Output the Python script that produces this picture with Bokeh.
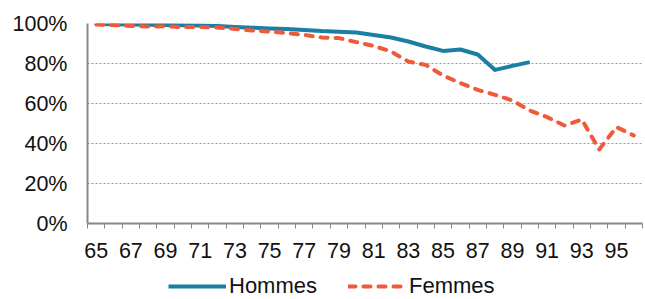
from bokeh.plotting import figure
from bokeh.layouts import column
from bokeh.models import (ColumnDataSource, FixedTicker, NumeralTickFormatter,
                          Legend, LegendItem, Range1d)
from bokeh.embed import file_html
from bokeh.resources import INLINE

ages_h = list(range(65, 91))
hommes = [0.997, 0.996, 0.995, 0.994, 0.993, 0.991, 0.990, 0.987, 0.983, 0.979,
          0.975, 0.972, 0.967, 0.962, 0.959, 0.955, 0.943, 0.930, 0.910, 0.885,
          0.863, 0.870, 0.845, 0.768, 0.788, 0.807]
ages_f = list(range(65, 97))
femmes = [0.995, 0.992, 0.988, 0.985, 0.986, 0.982, 0.983, 0.980, 0.973, 0.965,
          0.960, 0.952, 0.943, 0.930, 0.927, 0.907, 0.888, 0.860, 0.810, 0.793,
          0.740, 0.702, 0.668, 0.643, 0.615, 0.565, 0.532, 0.490, 0.520, 0.370,
          0.482, 0.440]
x_ticks = list(range(65, 97, 2))
y_ticks = [0, 0.2, 0.4, 0.6, 0.8, 1.0]
series_names = ["Hommes", "Femmes"]

FONT = "Liberation Sans"
FSIZE = "21.5px"
LSIZE = "22px"
BLUE = "#1A7FA2"
RED = "#EE5A3A"
DASH = "7 8"

p = figure(width=645, height=263, output_backend="svg", toolbar_location=None,
           x_range=Range1d(64.5, 96.5), y_range=Range1d(0, 1.0),
           min_border_left=87, min_border_right=3, min_border_top=23,
           min_border_bottom=40)
p.outline_line_color = None
p.background_fill_color = "white"

src_h = ColumnDataSource(dict(x=ages_h, y=hommes))
src_f = ColumnDataSource(dict(x=ages_f, y=femmes))
p.line("x", "y", source=src_h, line_color=BLUE, line_width=4, line_join="round")
p.line("x", "y", source=src_f, line_color=RED, line_width=4,
       line_dash=DASH, line_cap="round", line_join="round")

# axes
p.xaxis.ticker = FixedTicker(ticks=x_ticks, minor_ticks=[a - 0.5 for a in range(65, 98)])
p.xaxis.major_tick_out = 0
p.xaxis.major_tick_in = 0
p.xaxis.minor_tick_out = 5
p.xaxis.minor_tick_in = 0
p.xaxis.minor_tick_line_color = "#888888"
p.xaxis.axis_line_color = "#888888"
p.xaxis.axis_line_width = 2
p.xaxis.major_label_standoff = 14

p.yaxis.ticker = FixedTicker(ticks=y_ticks)
p.yaxis.formatter = NumeralTickFormatter(format="0%")
p.yaxis.major_tick_out = 0
p.yaxis.major_tick_in = 0
p.yaxis.minor_tick_out = 0
p.yaxis.minor_tick_in = 0
p.yaxis.axis_line_color = "#888888"
p.yaxis.axis_line_width = 2
p.yaxis.major_label_standoff = 20

for ax in (p.xaxis, p.yaxis):
    ax.major_label_text_font = FONT
    ax.major_label_text_font_size = FSIZE
    ax.major_label_text_color = "#111111"

p.xgrid.grid_line_color = None
p.ygrid.ticker = FixedTicker(ticks=[0.2, 0.4, 0.6, 0.8, 1.0])
p.ygrid.grid_line_color = "#999999"
p.ygrid.grid_line_dash = "2 2"
p.ygrid.grid_line_width = 1

# legend strip below the chart (same series, drawn outside its own view)
lg = figure(width=645, height=36, output_backend="svg", toolbar_location=None,
            x_range=Range1d(0, 1), y_range=Range1d(0, 1),
            min_border_left=0, min_border_right=0, min_border_top=0,
            min_border_bottom=0)
lg.axis.visible = False
lg.grid.visible = False
lg.outline_line_color = None
lh = lg.line("x", "y", source=src_h, line_color=BLUE, line_width=4)
lf = lg.line("x", "y", source=src_f, line_color=RED, line_width=4,
             line_dash=DASH, line_cap="round")
legend = Legend(items=[LegendItem(label=series_names[0], renderers=[lh]),
                       LegendItem(label=series_names[1], renderers=[lf])],
                orientation="horizontal", location=(81, 0),
                label_text_font=FONT, label_text_font_size=LSIZE,
                label_text_color="#111111",
                glyph_width=58, glyph_height=20, label_standoff=3,
                spacing=31, padding=0, margin=0, border_line_color=None,
                background_fill_alpha=0)
lg.add_layout(legend)

open("out.html", "w").write(file_html(column(p, lg, spacing=0), INLINE))
